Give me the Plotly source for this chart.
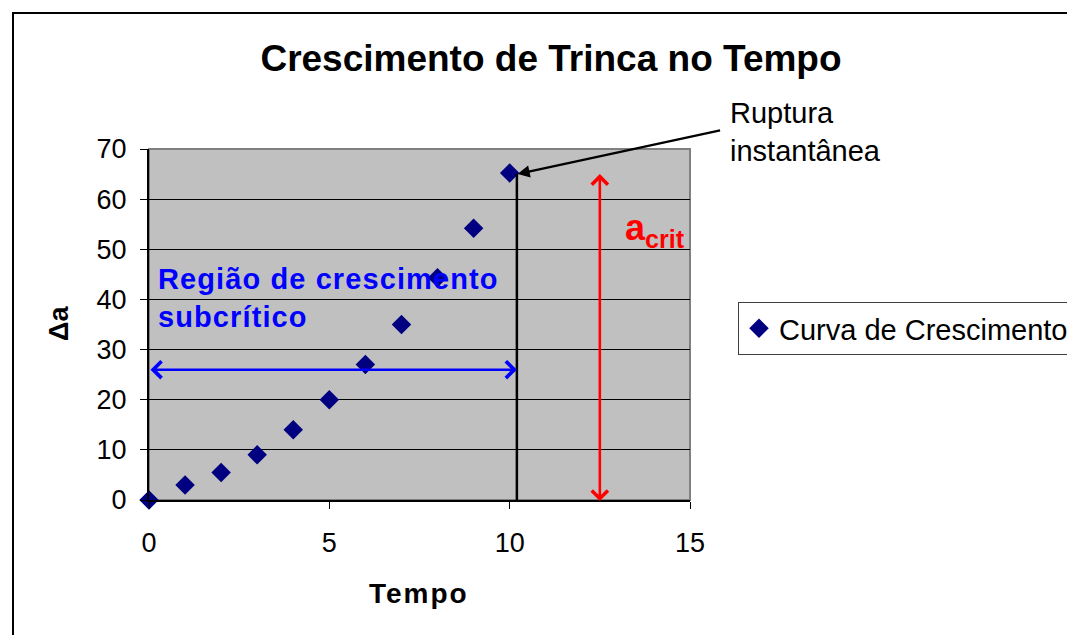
import plotly.graph_objects as go

# dados
tempo = [0, 1, 2, 3, 4, 5, 6, 7, 8, 9, 10]
delta_a = [0, 3, 5.5, 9, 14, 20, 27, 35, 44.3, 54.2, 65.2]
serie_nome = "Curva de Crescimento"

x_ticks = [0, 5, 10, 15]
y_ticks = [0, 10, 20, 30, 40, 50, 60, 70]

FONT = "Arial, 'Liberation Sans', sans-serif"
OFF = 8  # margem do <body> da página
W, H = 1075 - OFF, 635 - OFF
L, T = 149 - OFF, 149 - OFF
PW, PH = 541, 351
R, B = W - L - PW, H - T - PH


def px_to_paper(px, py):
    # coordenadas da tela -> coordenadas "paper"
    return (px - OFF - L) / PW, (H - B - (py - OFF)) / PH


fig = go.Figure()
fig.add_trace(go.Scatter(
    x=tempo, y=delta_a, mode="markers", name=serie_nome,
    marker=dict(symbol="diamond", size=15, color="#000080"),
    cliponaxis=False,
))

# linha vertical de ruptura
fig.add_shape(type="line", xref="x", yref="y", x0=10.2, x1=10.2, y0=-1, y1=65,
              line=dict(color="black", width=2.5))

# seta azul (região subcrítica)
fig.add_annotation(x=10.2, y=26, ax=0, ay=26, xref="x", yref="y", axref="x", ayref="y",
                   text="", showarrow=True, arrowside="end+start", arrowhead=4,
                   arrowsize=1.3, arrowwidth=2.5, arrowcolor="#0000FF")
# seta vermelha (a_crit)
fig.add_annotation(x=12.5, y=65, ax=12.5, ay=-0.5, xref="x", yref="y", axref="x", ayref="y",
                   text="", showarrow=True, arrowside="end+start", arrowhead=4,
                   arrowsize=1.2, arrowwidth=2.6, arrowcolor="#FF0000")
# seta de ruptura
fig.add_annotation(x=10.22, y=65, ax=204, ay=-44, xref="x", yref="y",
                   text="", showarrow=True, arrowhead=2, arrowsize=1.1,
                   arrowwidth=2.2, arrowcolor="black")

fig.add_annotation(x=14.03, y=53.8, xref="x", yref="y", showarrow=False,
                   text="<b>a<sub>crit</sub></b>",
                   font=dict(family=FONT, size=36, color="#FF0000"))
fig.add_annotation(x=0.2, y=40.3, xref="x", yref="y", showarrow=False,
                   xanchor="left", yanchor="middle", align="left",
                   text="<span style='letter-spacing:1.1px'><b>Região de crescimento<br>subcrítico</b></span>",
                   font=dict(family=FONT, size=29, color="#0000FF"))

px, py = px_to_paper(728, 132)
fig.add_annotation(x=px, y=py, xref="paper", yref="paper", showarrow=False,
                   xanchor="left", yanchor="middle", align="left",
                   text="Ruptura<br>instantânea",
                   font=dict(family=FONT, size=29, color="black"))

# títulos dos eixos
px, py = px_to_paper(419, 593)
fig.add_annotation(x=px, y=py, xref="paper", yref="paper", showarrow=False,
                   xanchor="center", yanchor="middle",
                   text="<span style='letter-spacing:2px'><b>Tempo</b></span>",
                   font=dict(family=FONT, size=28, color="black"))
px, py = px_to_paper(59, 324)
fig.add_annotation(x=px, y=py, xref="paper", yref="paper", showarrow=False, textangle=-90,
                   xanchor="center", yanchor="middle",
                   text="<b>Δa</b>", font=dict(family=FONT, size=27, color="black"))

# borda da área do gráfico (cinza) e moldura externa
fig.add_shape(type="rect", xref="paper", yref="paper", x0=0, x1=1, y0=0, y1=1,
              line=dict(color="#808080", width=2), layer="below")
x0, y0 = px_to_paper(13, 660)
x1, y1 = px_to_paper(1100, 13)
fig.add_shape(type="rect", xref="paper", yref="paper", x0=x0, x1=x1, y0=y0, y1=y1,
              line=dict(color="black", width=2))

fig.update_xaxes(range=[0, 15], tickvals=x_ticks, showgrid=False, zeroline=False,
                 showline=True, linecolor="black", linewidth=2,
                 ticks="outside", ticklen=7, tickcolor="black", tickwidth=1,
                 ticklabelstandoff=11,
                 tickfont=dict(family=FONT, size=27, color="black"))
fig.update_yaxes(range=[0, 70], tickvals=y_ticks, showgrid=True, gridcolor="black",
                 gridwidth=1, zeroline=False,
                 showline=True, linecolor="black", linewidth=2,
                 ticks="outside", ticklen=7, tickcolor="black", tickwidth=1,
                 ticklabelstandoff=8,
                 tickfont=dict(family=FONT, size=27, color="black"))

lx, ly = px_to_paper(738, 302)
fig.update_layout(
    width=W, height=H,
    margin=dict(l=L, r=R, t=T, b=B, autoexpand=False),
    paper_bgcolor="white", plot_bgcolor="#C0C0C0",
    title=dict(text="<b>Crescimento de Trinca no Tempo</b>", x=(551 - OFF) / W, xanchor="center",
               y=1 - (58 - OFF) / H, yanchor="middle",
               font=dict(family=FONT, size=37, color="black")),
    showlegend=True,
    legend=dict(x=lx, y=ly, xanchor="left", yanchor="top", bgcolor="white",
                bordercolor="#404040", borderwidth=1, tracegroupgap=0,
                font=dict(family=FONT, size=29, color="black")),
)

fig.write_html("out.html")
